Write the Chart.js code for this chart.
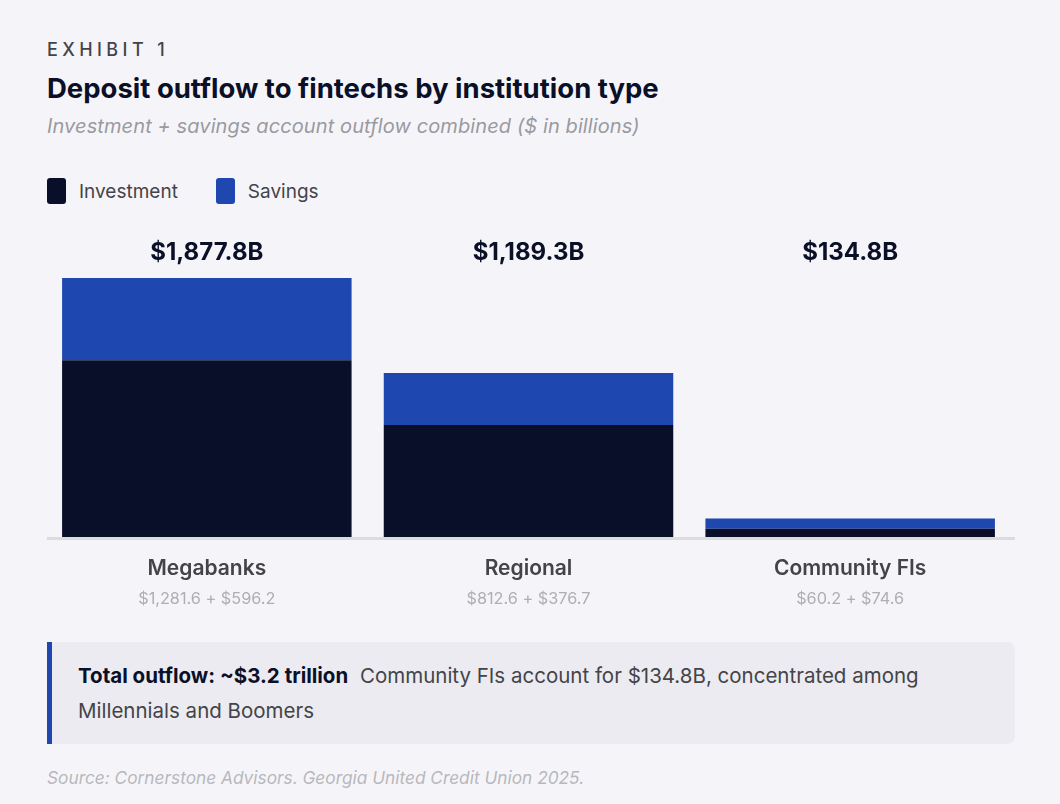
<!DOCTYPE html>
<html>
<head>
<meta charset="utf-8">
<script src="https://cdn.jsdelivr.net/npm/chart.js@4"></script>
<style>
  html, body { margin: 0; padding: 0; }
  body { width: 1060px; height: 804px; background: #f5f5f9; position: relative; overflow: hidden; font-family: Inter, "Noto Sans", sans-serif; }
  .exhibit { position: absolute; left: 47px; top: 38px; font-size: 18px; letter-spacing: 4.4px; color: #444448; font-weight: 500; line-height: 24px; }
  .title { position: absolute; left: 47px; top: 70px; font-size: 27.5px; font-weight: 700; color: #0b1029; line-height: 36px; letter-spacing: 0; }
  .subtitle { position: absolute; left: 47px; top: 112px; font-size: 20px; font-style: italic; color: #9a9aa0; line-height: 28px; letter-spacing: 0.1px; }
  .legend { position: absolute; left: 47px; top: 178px; display: flex; align-items: center; font-size: 19px; color: #444448; }
  .legend .item { display: flex; align-items: center; margin-right: 38px; }
  .legend .sw { width: 19px; height: 26px; border-radius: 3px; margin-right: 13px; }
  #wrap { position: absolute; left: 0; top: 230px; width: 1060px; height: 390px; }
  .callout { position: absolute; left: 47px; top: 642px; width: 968px; height: 102px; box-sizing: border-box; background: #ebebf1; border-left: 5px solid #1f47b0; border-radius: 0 8px 8px 0; padding: 16px 90px 0 26px; font-size: 20.5px; line-height: 35px; color: #444448; letter-spacing: 0; }
  .callout b { color: #0b1029; font-weight: 700; margin-right: 6px; }
  .source { position: absolute; left: 47px; top: 767px; font-size: 17.3px; font-style: italic; color: #b8b8bd; line-height: 22px; letter-spacing: 0; }
</style>
</head>
<body>
<div class="exhibit">EXHIBIT 1</div>
<div class="title">Deposit outflow to fintechs by institution type</div>
<div class="subtitle">Investment + savings account outflow combined ($ in billions)</div>
<div class="legend">
  <div class="item"><span class="sw" style="background:#0a0f29"></span>Investment</div>
  <div class="item"><span class="sw" style="background:#1f47b0"></span>Savings</div>
</div>
<div id="wrap"><canvas id="c"></canvas></div>
<div class="callout"><b>Total outflow: ~$3.2 trillion</b> Community FIs account for $134.8B, concentrated among Millennials and Boomers</div>
<div class="source">Source: Cornerstone Advisors. Georgia United Credit Union 2025.</div>
<script>
const categories = ["Megabanks", "Regional", "Community FIs"];
const investment = [1281.6, 812.6, 60.2];
const savings = [596.2, 376.7, 74.6];

const totals = categories.map((_, i) => +(investment[i] + savings[i]).toFixed(1));
const fmt = v => "$" + v.toLocaleString("en-US", { minimumFractionDigits: 1, maximumFractionDigits: 1 });
const FONT = 'Inter, "Noto Sans", sans-serif';

const labelPlugin = {
  id: "labels",
  afterDatasetsDraw(chart) {
    const { ctx, chartArea, scales } = chart;
    ctx.save();
    // baseline
    ctx.fillStyle = "#dcdcdc";
    ctx.fillRect(47, chartArea.bottom, 968, 3);
    ctx.textAlign = "center";
    ctx.textBaseline = "middle";
    categories.forEach((cat, i) => {
      const x = scales.x.getPixelForValue(i);
      ctx.fillStyle = "#0b1029";
      ctx.font = "700 24px " + FONT;
      ctx.fillText(fmt(totals[i]) + "B", x, chartArea.top - 25);
      ctx.fillStyle = "#444448";
      ctx.font = "600 21px " + FONT;
      ctx.fillText(cat, x, chartArea.bottom + 32);
      ctx.fillStyle = "#aeaeb3";
      ctx.font = "400 16.3px " + FONT;
      ctx.fillText(fmt(investment[i]) + " + " + fmt(savings[i]), x, chartArea.bottom + 62);
    });
    ctx.restore();
  }
};

new Chart(document.getElementById("c"), {
  type: "bar",
  data: {
    labels: categories,
    datasets: [
      { label: "Investment", data: investment, backgroundColor: "#0a0f29", borderWidth: 0 },
      { label: "Savings", data: savings, backgroundColor: "#1f47b0", borderWidth: 0 }
    ]
  },
  options: {
    responsive: true,
    maintainAspectRatio: false,
    animation: false,
    layout: { padding: { left: 46, right: 49, top: 48, bottom: 83 } },
    datasets: { bar: { barPercentage: 0.9, categoryPercentage: 1.0 } },
    plugins: { legend: { display: false }, tooltip: { enabled: false } },
    scales: {
      x: { stacked: true, display: false },
      y: { stacked: true, display: false, min: 0, max: Math.max(...totals) }
    }
  },
  plugins: [labelPlugin]
});
</script>
</body>
</html>
